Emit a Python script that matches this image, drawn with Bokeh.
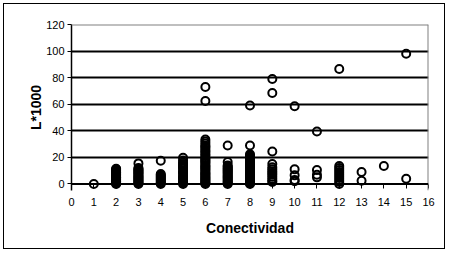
from bokeh.plotting import figure
from bokeh.models import FixedTicker, Span, Range1d, ColumnDataSource
from bokeh.embed import file_html
from bokeh.resources import INLINE

# L*1000 values per conectividad column
c1 = [0]
c2 = [0, 0.4, 1, 1.6, 2.1, 2.9, 3.4, 4, 4.8, 5.3, 6, 6.6, 7.2, 8, 8.5, 9.1, 9.8, 10.4, 11, 11.5]
c3 = [0, 0.6, 1.2, 2, 2.7, 3.3, 4.1, 4.9, 5.5, 6.2, 7, 7.8, 8.4, 9.1, 9.9, 10.6, 11.3, 12, 15.5]
c4 = [0, 0.7, 1.3, 2.2, 3, 3.7, 4.5, 5.2, 6, 6.8, 7.5, 17.5]
c5 = [0, 1, 1.8, 3.5, 4.4, 5.1, 6, 7.8, 8.6, 9.5, 11.5, 12.3, 13.2, 14, 15, 16.2, 17.6, 19.8]
c6 = [0, 0.5, 1.2, 2, 2.8, 3.5, 4.3, 5, 5.8, 6.7, 7.5, 8.2, 9, 10.1, 11, 11.8, 12.7, 13.5,
      14.2, 15.6, 16.4, 17.3, 18.1, 19, 19.8, 21.3, 22.2, 23.5, 24.6, 25.5, 27, 28, 29,
      30.5, 32, 33.5, 62.5, 73]
c7 = [0, 0.6, 1.4, 2.1, 2.9, 3.8, 4.5, 5.3, 6, 6.8, 7.7, 8.5, 9.3, 10, 10.8, 11.5, 12.3,
      13.1, 14, 16.5, 29]
c8 = [0, 0.5, 1.1, 1.8, 2.5, 3.2, 4, 4.7, 5.4, 6.1, 6.9, 7.6, 8.3, 9, 9.8, 10.5, 11.2,
      12, 12.7, 13.4, 14.2, 15, 15.7, 16.5, 17.2, 18, 18.8, 19.5, 20.3, 21.2, 22.4, 29, 59]
c9 = [1.5, 2.5, 4, 5.5, 7, 8.2, 9.5, 11, 12.5, 15, 24.5, 68.5, 79]
c10 = [2, 3, 6.5, 11, 58.5]
c11 = [5, 7, 10.5, 39.5]
c12 = [0, 1.5, 3, 4.5, 6, 7.5, 9, 10.5, 12, 13.5, 86.5]
c13 = [2.5, 9]
c14 = [13.5]
c15 = [4, 98]

columns = [c1, c2, c3, c4, c5, c6, c7, c8, c9, c10, c11, c12, c13, c14, c15]
x_ticks = list(range(0, 17))
y_ticks = [0, 20, 40, 60, 80, 100, 120]
grid_vals = [20, 40, 60, 80, 100]

xs, ys = [], []
for k, col in enumerate(columns, start=1):
    xs += [k] * len(col)
    ys += col
src = ColumnDataSource(dict(x=xs, y=ys))

FONT = "Liberation Sans"

p = figure(width=442, height=246, output_backend="svg", toolbar_location=None,
           x_range=Range1d(0, 16), y_range=Range1d(-4.9, 120),
           min_border_left=67, min_border_right=18, min_border_top=20, min_border_bottom=60)
p.styles = {"border": "1px solid black", "margin-left": "3px", "margin-top": "3px"}
p.outline_line_color = None
p.background_fill_color = "white"
p.border_fill_color = "white"

p.xgrid.visible = False
p.ygrid.ticker = FixedTicker(ticks=grid_vals)
p.ygrid.grid_line_color = "black"
p.ygrid.grid_line_width = 2

p.add_layout(Span(location=120, dimension="width", line_color="#808080", line_width=2))
p.add_layout(Span(location=16, dimension="height", line_color="#808080", line_width=2))
p.add_layout(Span(location=0, dimension="width", line_color="black", line_width=2))

p.scatter("x", "y", source=src, marker="circle", size=8, fill_color=None,
          line_color="black", line_width=2)

p.xaxis.ticker = FixedTicker(ticks=x_ticks)
p.yaxis.ticker = FixedTicker(ticks=y_ticks)
for ax in (p.xaxis, p.yaxis):
    ax.minor_tick_line_color = None
    ax.axis_line_color = "black"
    ax.major_tick_line_color = "black"
    ax.major_label_text_font = FONT
    ax.major_label_text_font_size = "11px"
    ax.major_label_text_color = "black"
    ax.axis_label_text_font = FONT
    ax.axis_label_text_font_size = "14px"
    ax.axis_label_text_font_style = "bold"
    ax.axis_label_text_color = "black"
p.yaxis.major_tick_in = 0
p.yaxis.major_tick_out = 4
p.xaxis.axis_line_color = None
p.xaxis.major_tick_in = 6
p.xaxis.major_tick_out = -2
p.yaxis.axis_line_width = 1.5
p.xaxis.major_label_standoff = 7
p.yaxis.major_label_standoff = 3
p.xaxis.axis_label = "Conectividad"
p.yaxis.axis_label = "L*1000"
p.xaxis.axis_label_standoff = 11
p.yaxis.axis_label_standoff = -1

open("out.html", "w").write(file_html(p, INLINE))
